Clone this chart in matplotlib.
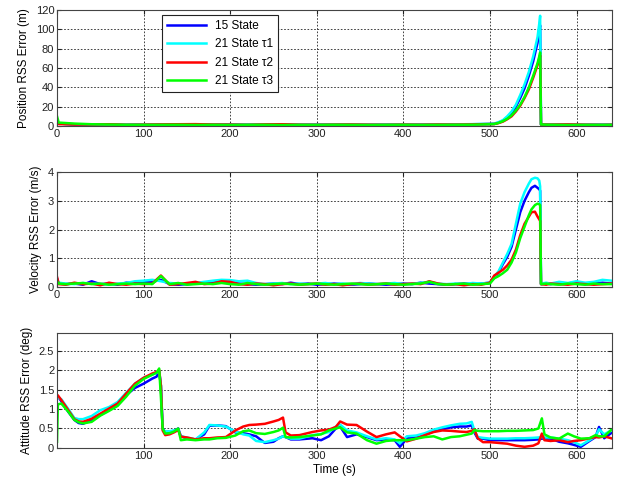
import matplotlib
matplotlib.use('Agg')
import matplotlib.pyplot as plt

plt.rcParams['font.family'] = ['Liberation Sans', 'DejaVu Sans']

labels = ['15 State', '21 State τ1', '21 State τ2', '21 State τ3']
colors = ['#0000ff', '#00ffff', '#ff0000', '#00ff00']

# ---- position RSS error (m) ----
pos_t = [0, 2,
         20, 40, 60, 80, 100, 120, 140, 160, 180, 200, 220, 240, 260,
         280, 300, 320, 340, 360, 380, 400, 420, 440, 460, 480, 500,
         505, 510, 515, 520, 525, 530, 535, 540, 545, 550, 555, 557, 558, 559,
         570, 590, 610, 630, 640]
pos_blue = [3.5, 2.5,
            1.5, 1.2, 1.4, 1.1, 1.6, 1.3, 1.2, 1.5, 1.3, 1.6, 1.2, 1.1, 1.3,
            1.2, 1.4, 1.6, 1.2, 1.1, 1.3, 1.2, 1.4, 1.6, 1.5, 1.8, 2.0,
            2.2, 3.5, 5.5, 9, 13, 20, 29, 39, 52, 67, 86, 100, 104, 1.5,
            1.2, 1.3, 1.1, 1.4, 1.2]
pos_cyan = [3.0, 2.5,
            1.8, 1.6, 1.3, 1.5, 1.8, 1.6, 1.5, 1.7, 1.4, 1.5, 1.8, 1.6, 1.4,
            1.5, 1.6, 1.8, 1.5, 1.4, 1.6, 1.5, 1.7, 1.8, 1.7, 1.9, 2.3,
            2.5, 4, 6, 10, 15, 22, 32, 43, 56, 72, 92, 106, 114, 1.5,
            1.6, 1.4, 1.5, 1.8, 1.6]
pos_red = [4.0, 2.0,
           1.5, 1.6, 1.8, 1.2, 1.4, 1.6, 1.8, 1.9, 1.5, 1.4, 1.2, 1.6, 1.8,
           1.3, 1.2, 1.4, 1.5, 1.3, 1.2, 1.4, 1.3, 1.5, 1.4, 1.6, 2.0,
           2.0, 3, 4.5, 7, 10, 15, 21, 29, 38, 50, 63, 70, 73, 1.5,
           1.4, 1.6, 1.3, 1.2, 1.3]
pos_green = [10.0, 3.5,
             2.5, 1.8, 1.5, 1.2, 1.1, 1.2, 1.3, 1.1, 1.2, 1.0, 1.1, 1.2, 1.0,
             1.1, 1.0, 1.2, 1.1, 1.0, 1.1, 1.2, 1.0, 1.1, 1.2, 1.3, 1.8,
             2.0, 3.2, 5, 7.5, 11, 16, 22, 30, 40, 52, 65, 72, 76, 1.5,
             1.2, 1.0, 1.1, 1.0, 1.1]

# ---- velocity RSS error (m/s) ----
vel_t = [0, 2,
         10, 20, 30, 40, 50, 60, 70, 80, 90, 100,
         110, 120, 130, 140, 150, 160, 170, 180, 190, 200,
         210, 220, 230, 240, 250, 260, 270, 280, 290, 300,
         310, 320, 330, 340, 350, 360, 370, 380, 390, 400,
         410, 420, 430, 440, 450, 460, 470, 480, 490, 500,
         505, 510, 515, 520, 525, 530, 535, 540, 545, 548,
         552, 555, 557, 558, 559,
         565, 570, 580, 590, 600, 610, 620, 630, 640]
vel_blue = [0.30, 0.12,
            0.10, 0.12, 0.08, 0.20, 0.10, 0.12, 0.08, 0.15, 0.14, 0.18,
            0.18, 0.25, 0.10, 0.08, 0.10, 0.12, 0.15, 0.18, 0.20, 0.15,
            0.12, 0.10, 0.08, 0.10, 0.12, 0.10, 0.15, 0.10, 0.12, 0.08,
            0.10, 0.12, 0.10, 0.08, 0.10, 0.12, 0.10, 0.08, 0.10, 0.12,
            0.10, 0.15, 0.12, 0.10, 0.08, 0.10, 0.12, 0.10, 0.12, 0.15,
            0.33, 0.50, 0.80, 1.05, 1.40, 2.00, 2.60, 3.00, 3.30, 3.45,
            3.52, 3.45, 3.40, 3.35, 0.10,
            0.12, 0.10, 0.15, 0.12, 0.18, 0.10, 0.12, 0.15, 0.12]
vel_cyan = [0.25, 0.15,
            0.12, 0.10, 0.14, 0.12, 0.10, 0.08, 0.12, 0.14, 0.20, 0.22,
            0.25, 0.20, 0.14, 0.12, 0.10, 0.14, 0.18, 0.22, 0.25, 0.24,
            0.20, 0.22, 0.14, 0.10, 0.12, 0.14, 0.10, 0.12, 0.10, 0.12,
            0.14, 0.10, 0.12, 0.10, 0.14, 0.12, 0.10, 0.12, 0.14, 0.10,
            0.12, 0.14, 0.18, 0.12, 0.10, 0.12, 0.10, 0.14, 0.12, 0.15,
            0.35, 0.55, 0.85, 1.15, 1.50, 2.20, 2.90, 3.30, 3.60, 3.75,
            3.80, 3.78, 3.70, 3.50, 0.12,
            0.15, 0.12, 0.18, 0.14, 0.20, 0.15, 0.18, 0.25, 0.22]
vel_red = [0.35, 0.10,
           0.08, 0.15, 0.10, 0.12, 0.06, 0.15, 0.10, 0.08, 0.12, 0.10,
           0.12, 0.40, 0.08, 0.10, 0.14, 0.18, 0.10, 0.12, 0.20, 0.18,
           0.10, 0.08, 0.12, 0.10, 0.06, 0.10, 0.12, 0.08, 0.10, 0.12,
           0.08, 0.10, 0.06, 0.10, 0.12, 0.08, 0.10, 0.12, 0.08, 0.10,
           0.12, 0.10, 0.20, 0.12, 0.08, 0.10, 0.06, 0.10, 0.08, 0.15,
           0.40, 0.50, 0.60, 0.75, 0.95, 1.30, 1.80, 2.20, 2.45, 2.60,
           2.62, 2.45, 2.35, 2.30, 0.10,
           0.08, 0.12, 0.10, 0.08, 0.12, 0.10, 0.08, 0.10, 0.12]
vel_green = [0.20, 0.12,
             0.10, 0.12, 0.14, 0.10, 0.12, 0.08, 0.10, 0.12, 0.10, 0.12,
             0.10, 0.38, 0.10, 0.14, 0.08, 0.10, 0.12, 0.10, 0.14, 0.10,
             0.08, 0.14, 0.10, 0.08, 0.10, 0.12, 0.10, 0.08, 0.10, 0.12,
             0.10, 0.08, 0.10, 0.12, 0.10, 0.08, 0.10, 0.12, 0.10, 0.08,
             0.10, 0.12, 0.18, 0.10, 0.08, 0.10, 0.12, 0.08, 0.10, 0.12,
             0.30, 0.38, 0.48, 0.60, 0.85, 1.20, 1.70, 2.10, 2.50, 2.70,
             2.85, 2.90, 2.88, 2.85, 0.10,
             0.12, 0.10, 0.08, 0.12, 0.10, 0.08, 0.12, 0.10, 0.10]

# ---- attitude RSS error (deg) ----
att_t = [0, 1, 5, 13, 20, 25, 30, 40, 50, 60,
         70, 80, 90, 100, 110, 115, 118, 120, 122, 125,
         130, 135, 140, 143, 150, 160, 170, 176, 185, 195,
         206, 215, 222, 230, 240, 250, 256, 261, 264, 270,
         280, 295, 305, 314, 322, 327, 335, 346, 358, 369,
         380, 390, 396, 404, 415, 425, 435, 445, 455, 465,
         473, 479, 482, 486, 492, 500, 510, 520, 530, 540,
         550, 556, 560, 563, 570, 580, 590, 597, 605, 615,
         622, 626, 632, 640]
att_blue = [1.30, 1.32, 1.20, 0.93, 0.72, 0.64, 0.62, 0.72, 0.85, 0.97,
            1.10, 1.36, 1.54, 1.65, 1.78, 1.83, 1.97, 1.60, 0.50, 0.41,
            0.42, 0.44, 0.50, 0.30, 0.25, 0.22, 0.35, 0.57, 0.58, 0.56,
            0.40, 0.38, 0.35, 0.30, 0.13, 0.16, 0.25, 0.30, 0.28, 0.22,
            0.22, 0.25, 0.20, 0.30, 0.50, 0.55, 0.28, 0.35, 0.28, 0.20,
            0.22, 0.20, 0.03, 0.24, 0.30, 0.34, 0.43, 0.48, 0.53, 0.55,
            0.55, 0.58, 0.40, 0.24, 0.24, 0.20, 0.20, 0.20, 0.20, 0.20,
            0.21, 0.22, 0.24, 0.24, 0.24, 0.16, 0.12, 0.08, 0.03, 0.18,
            0.28, 0.54, 0.25, 0.38]
att_cyan = [1.28, 1.30, 1.25, 1.00, 0.77, 0.74, 0.74, 0.82, 0.97, 1.05,
            1.18, 1.42, 1.65, 1.80, 1.88, 1.93, 1.97, 1.60, 0.48, 0.42,
            0.43, 0.45, 0.48, 0.30, 0.27, 0.22, 0.40, 0.59, 0.58, 0.55,
            0.42, 0.35, 0.32, 0.18, 0.15, 0.20, 0.24, 0.30, 0.28, 0.24,
            0.24, 0.33, 0.36, 0.41, 0.55, 0.60, 0.45, 0.40, 0.30, 0.22,
            0.25, 0.22, 0.12, 0.30, 0.32, 0.38, 0.47, 0.53, 0.58, 0.62,
            0.63, 0.67, 0.45, 0.28, 0.26, 0.24, 0.24, 0.24, 0.25, 0.25,
            0.26, 0.27, 0.28, 0.27, 0.27, 0.24, 0.20, 0.15, 0.07, 0.20,
            0.30, 0.48, 0.35, 0.45]
att_red = [1.35, 1.35, 1.23, 0.97, 0.74, 0.68, 0.67, 0.75, 0.88, 1.01,
           1.14, 1.40, 1.65, 1.80, 1.91, 1.95, 2.00, 1.60, 0.45, 0.33,
           0.35, 0.40, 0.46, 0.29, 0.27, 0.22, 0.25, 0.25, 0.27, 0.28,
           0.45, 0.55, 0.59, 0.60, 0.62, 0.68, 0.72, 0.78, 0.40, 0.32,
           0.33, 0.41, 0.45, 0.47, 0.54, 0.68, 0.60, 0.59, 0.42, 0.28,
           0.35, 0.40, 0.30, 0.17, 0.24, 0.33, 0.41, 0.45, 0.44, 0.42,
           0.41, 0.44, 0.48, 0.25, 0.15, 0.15, 0.13, 0.11, 0.06, 0.03,
           0.06, 0.12, 0.37, 0.20, 0.18, 0.20, 0.15, 0.18, 0.20, 0.25,
           0.28, 0.27, 0.30, 0.25]
att_green = [0.16, 1.12, 1.14, 0.93, 0.72, 0.66, 0.63, 0.67, 0.83, 0.95,
             1.08, 1.32, 1.60, 1.77, 1.88, 1.93, 2.04, 1.30, 0.50, 0.37,
             0.38, 0.42, 0.50, 0.20, 0.22, 0.20, 0.22, 0.22, 0.25, 0.26,
             0.32, 0.43, 0.45, 0.38, 0.36, 0.41, 0.45, 0.52, 0.28, 0.27,
             0.28, 0.32, 0.35, 0.45, 0.50, 0.53, 0.40, 0.37, 0.20, 0.11,
             0.18, 0.20, 0.20, 0.20, 0.24, 0.28, 0.30, 0.22, 0.28, 0.30,
             0.34, 0.37, 0.46, 0.44, 0.43, 0.43, 0.43, 0.44, 0.44, 0.45,
             0.46, 0.50, 0.76, 0.35, 0.27, 0.24, 0.37, 0.30, 0.24, 0.25,
             0.33, 0.30, 0.30, 0.46]


def style_axes(ax, ylim, yticks, xticks):
    ax.set_xlim(0, 641)
    ax.set_ylim(*ylim)
    ax.set_yticks(yticks)
    ax.set_xticks(xticks)
    ax.tick_params(direction='in', length=3, labelsize=8, top=True, right=True,
                   colors='#222222', pad=2)
    ax.grid(True, color='#222222', linestyle=(0, (2, 2)), linewidth=0.6)
    for s in ax.spines.values():
        s.set_color('#444444')
        s.set_linewidth(0.8)


fig = plt.figure(figsize=(6.17, 4.84), dpi=100)
ax1 = fig.add_axes([0.0924, 0.7397, 0.8995, 0.2397])
ax2 = fig.add_axes([0.0924, 0.4070, 0.8995, 0.2376])
ax3 = fig.add_axes([0.0924, 0.0744, 0.8995, 0.2376])

lw = 1.8
pos = [pos_blue, pos_cyan, pos_red, pos_green]
vel = [vel_blue, vel_cyan, vel_red, vel_green]
att = [att_blue, att_cyan, att_red, att_green]
for ys, c, lab in zip(pos, colors, labels):
    ax1.plot(pos_t, ys, color=c, lw=lw, label=lab)
for ys, c in zip(vel, colors):
    ax2.plot(vel_t, ys, color=c, lw=lw)
for ys, c in zip(att, colors):
    ax3.plot(att_t, ys, color=c, lw=lw)

style_axes(ax1, (0, 120), range(0, 121, 20), range(0, 601, 100))
style_axes(ax2, (0, 4), range(0, 5), range(0, 601, 100))
style_axes(ax3, (0, 2.95), [0, 0.5, 1, 1.5, 2, 2.5], range(100, 601, 100))
ax3.set_yticklabels(['0', '0.5', '1', '1.5', '2', '2.5'])

ax1.set_ylabel('Position RSS Error (m)', fontsize=8.5, labelpad=4)
ax2.set_ylabel('Velocity RSS Error (m/s)', fontsize=8.5, labelpad=4)
ax3.set_ylabel('Attitude RSS Error (deg)', fontsize=8.5, labelpad=4)
ax3.set_xlabel('Time (s)', fontsize=8.5, labelpad=2)

leg = ax1.legend(loc='upper left', bbox_to_anchor=(0.189, 0.957), borderaxespad=0,
                 fancybox=False, edgecolor='#222222', framealpha=1, fontsize=8.5,
                 handlelength=3.3, labelspacing=0.55, borderpad=0.4)
leg.get_frame().set_linewidth(0.8)

fig.savefig('out.png', dpi=100)
